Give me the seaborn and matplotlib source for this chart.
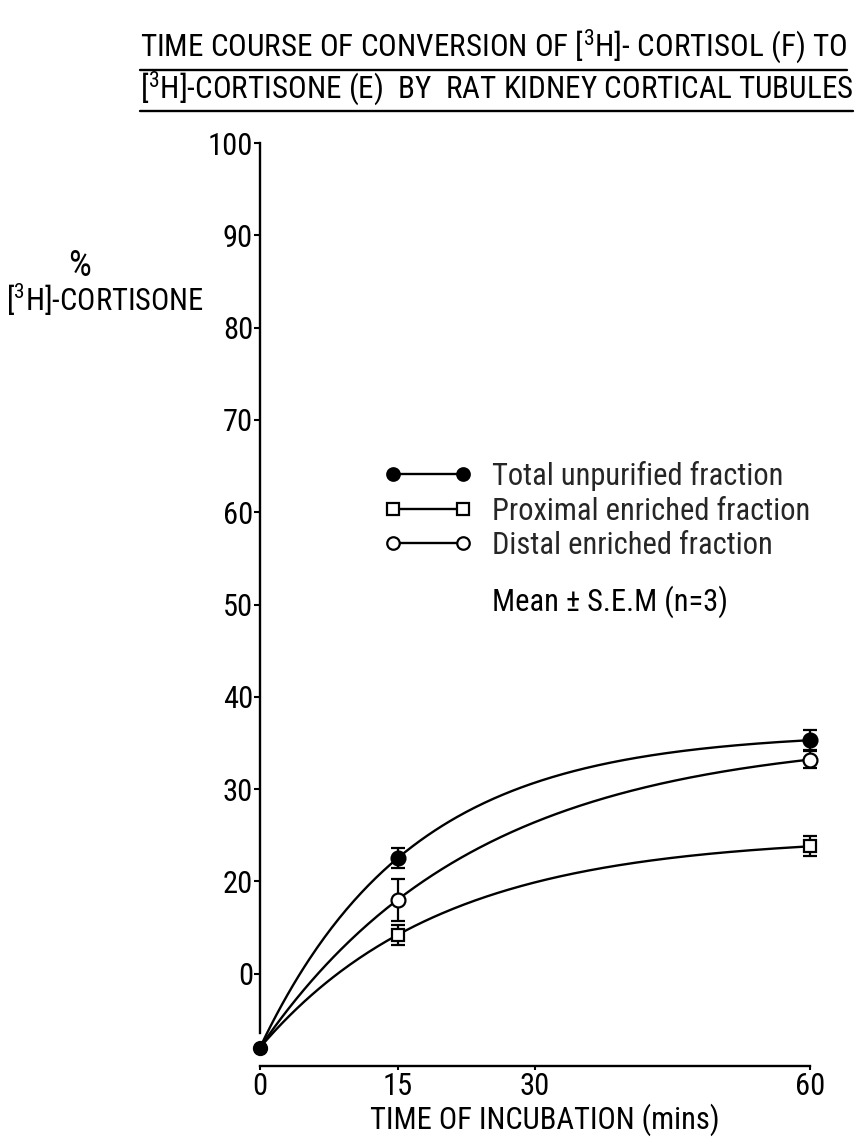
import numpy as np
import pandas as pd
import matplotlib
matplotlib.use("Agg")
import matplotlib.pyplot as plt
import seaborn as sns
from matplotlib import font_manager
from matplotlib.lines import Line2D

# ---------------- data ----------------
times = [0, 15, 60]
total_mean = [2.0, 22.5, 35.3]
total_sem = [0.0, 1.1, 1.1]
proximal_mean = [2.0, 14.2, 23.8]
proximal_sem = [0.0, 1.1, 1.1]
distal_mean = [2.0, 18.0, 33.2]
distal_sem = [0.0, 2.3, 0.9]
series_names = ["Total unpurified fraction",
                "Proximal enriched fraction",
                "Distal enriched fraction"]
y_ticks = [10, 20, 30, 40, 50, 60, 70, 80, 90, 100]
y_tick_labels = ["0", "20", "30", "40", "50", "60", "70", "80", "90", "100"]
x_ticks = [0, 15, 30, 60]
x_tick_labels = ["0", "15", "30", "60"]

# ---------------- fonts ----------------
sns.set_theme(style="white")
avail = {f.name for f in font_manager.fontManager.ttflist}
FONT = "DejaVu Sans"
for cand in ["Liberation Sans Narrow", "DejaVu Sans Condensed", "Roboto Condensed",
             "Open Sans Condensed", "Liberation Sans"]:
    if cand in avail:
        FONT = cand
        break
plt.rcParams["font.family"] = [FONT, "DejaVu Sans"]
plt.rcParams["mathtext.fontset"] = "custom"
plt.rcParams["mathtext.rm"] = FONT
plt.rcParams["mathtext.it"] = FONT
plt.rcParams["mathtext.default"] = "regular"

FS = 22


# ---------------- smooth saturating curves through the points ----------------
def sat_curve(t, y):
    t1, t2 = t[1], t[2]
    ratio = (y[2] - y[0]) / (y[1] - y[0])
    p = t2 / t1
    lo, hi = 1e-6, 1 - 1e-6
    for _ in range(100):
        mid = 0.5 * (lo + hi)
        val = (1 - mid ** p) / (1 - mid) - ratio
        if val < 0:
            lo = mid
        else:
            hi = mid
    r = 0.5 * (lo + hi)
    D = (y[1] - y[0]) / (1 - r)
    A = y[0] + D
    k = -np.log(r) / t1
    tt = np.linspace(t[0], t[2], 300)
    return tt, A - D * np.exp(-k * (tt - t[0]))


means = [total_mean, proximal_mean, distal_mean]
sems = [total_sem, proximal_sem, distal_sem]
frames = []
for name, m in zip(series_names, means):
    tt, yy = sat_curve(times, m)
    frames.append(pd.DataFrame({"t": tt, "pct": yy, "series": name}))
curve_df = pd.concat(frames, ignore_index=True)

# ---------------- figure ----------------
W, H = 865, 1140
fig = plt.figure(figsize=(W / 100, H / 100), dpi=100)
fig.patch.set_facecolor("white")
ax = fig.add_axes([260 / W, (H - 1066) / H, 550 / W, (1066 - 143) / H])
ax.set_facecolor("white")

sns.lineplot(data=curve_df, x="t", y="pct", hue="series", palette=["black"] * 3,
             legend=False, ax=ax, linewidth=1.7, zorder=2)

styles = [dict(marker="o", mfc="black", ms=10),
          dict(marker="s", mfc="white", ms=9),
          dict(marker="o", mfc="white", ms=10)]
for m, s, st in zip(means, sems, styles):
    ax.errorbar(times[1:], m[1:], yerr=s[1:], fmt="none", ecolor="black",
                elinewidth=1.6, capsize=5, capthick=1.6, clip_on=False, zorder=3)
    ax.plot(times[1:], m[1:], linestyle="none", marker=st["marker"], mfc=st["mfc"],
            mec="black", mew=1.6, ms=st["ms"], clip_on=False, zorder=5)
# common starting point
ax.plot(times[:1], total_mean[:1], linestyle="none", marker="o", mfc="black",
        mec="black", ms=10, clip_on=False, zorder=5)

ax.set_xlim(0, 60)
ax.set_ylim(0, 100)
ax.set_xticks(x_ticks)
ax.set_xticklabels(x_tick_labels)
ax.set_yticks(y_ticks)
ax.set_yticklabels(y_tick_labels)
for sp in ["top", "right"]:
    ax.spines[sp].set_visible(False)
for sp in ["left", "bottom"]:
    ax.spines[sp].set_color("black")
    ax.spines[sp].set_linewidth(1.7)
ax.spines["left"].set_bounds(3.6, 100)
ax.tick_params(axis="y", direction="out", length=4, width=1.5, colors="black",
               labelsize=FS, pad=1, left=True)
ax.tick_params(axis="x", direction="out", length=3, width=1.5, colors="black",
               labelsize=FS, pad=1, bottom=True)

ax.set_xlabel("TIME OF INCUBATION (mins)", fontsize=FS, color="black")
ax.xaxis.set_label_coords((545 - 260) / 550, -(1120 - 1066) / 923)
ax.xaxis.label.set_va("center")
ax.set_ylabel("[$^3$H]-CORTISONE", fontsize=FS, color="black", rotation=0)
ax.yaxis.set_label_coords((105 - 260) / 550, (1066 - 300) / 923)
ax.yaxis.label.set_va("center")
ax.yaxis.label.set_ha("center")
fig.text(80 / W, 1 - 266 / H, "%", fontsize=FS + 4, ha="center", va="center", color="black")

# legend
handles = [Line2D([], [], color="black", lw=1.7, marker=st["marker"], mfc=st["mfc"],
                  mec="black", mew=1.6, ms=st["ms"] - 1) for st in styles]
fig.legend(handles, series_names, loc="upper left", bbox_to_anchor=(384 / W, 1 - 461 / H),
           numpoints=2, handlelength=2.9, handletextpad=0.65, labelspacing=0.18,
           frameon=False, fontsize=FS, borderaxespad=0, borderpad=0)
fig.text(492 / W, 1 - 602 / H, "Mean ± S.E.M (n=3)", fontsize=FS, ha="left",
         va="center", color="black")

# title with underlines
TFS = 22.4
t1 = fig.text(140 / W, 1 - 46 / H, "TIME COURSE OF CONVERSION OF [$^3$H]- CORTISOL (F) TO",
              fontsize=TFS, ha="left", va="center", color="black")
t2 = fig.text(140 / W, 1 - 88 / H, "[$^3$H]-CORTISONE (E)  BY  RAT KIDNEY CORTICAL TUBULES",
              fontsize=TFS, ha="left", va="center", color="black")
fig.canvas.draw()
r = fig.canvas.get_renderer()
for t, yline in [(t1, 70), (t2, 111)]:
    bb = t.get_window_extent(renderer=r)
    fig.add_artist(Line2D([bb.x0 / W, bb.x1 / W], [1 - yline / H, 1 - yline / H],
                          color="black", lw=1.7, transform=fig.transFigure))

fig.savefig("out.png", dpi=100, facecolor="white")
